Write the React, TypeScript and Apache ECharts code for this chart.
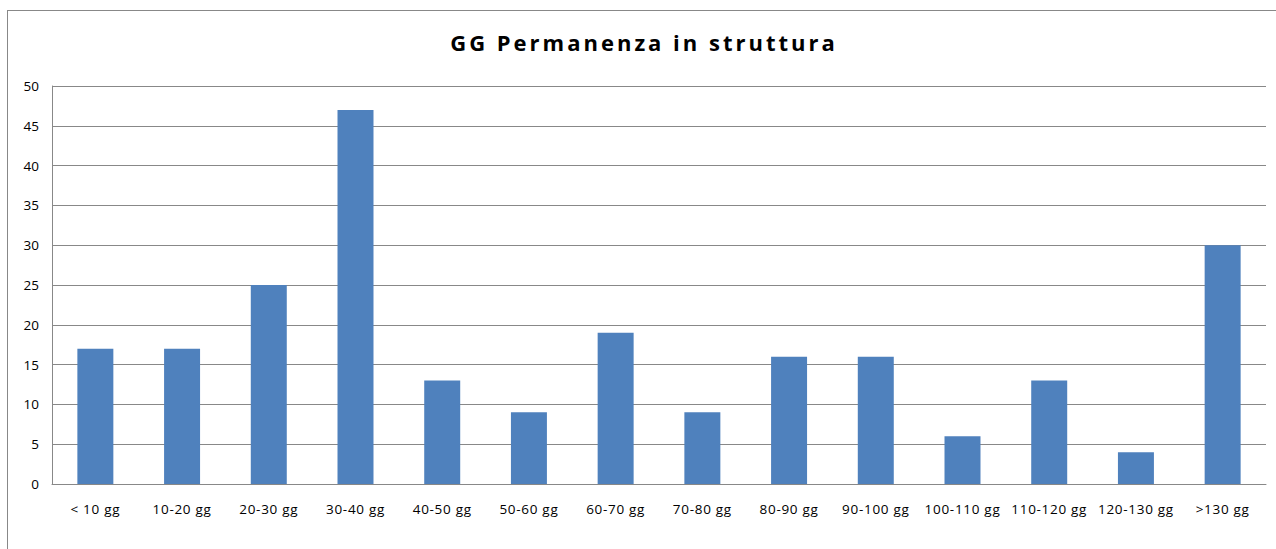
import React, { useEffect, useRef } from "react";
import * as echarts from "echarts";

const categories = ["< 10 gg", "10-20 gg", "20-30 gg", "30-40 gg", "40-50 gg", "50-60 gg", "60-70 gg", "70-80 gg", "80-90 gg", "90-100 gg", "100-110 gg", "110-120 gg", "120-130 gg", ">130 gg"];
const values = [17, 17, 25, 47, 13, 9, 19, 9, 16, 16, 6, 13, 4, 30];
const titleText = "GG Permanenza in struttura";

export default function App() {
  const ref = useRef<HTMLDivElement>(null);
  useEffect(() => {
    if (!ref.current) return;
    document.body.style.margin = "0";
    document.body.style.overflow = "hidden";
    const chart = echarts.init(ref.current, null, { renderer: "svg" });
    chart.setOption({
      animation: false,
      backgroundColor: "#fff",
      title: {
        text: titleText,
        left: 639,
        top: 26,
        textAlign: "center",
        textStyle: { fontFamily: "Open Sans", fontWeight: "bold", fontSize: 22, color: "#000" },
      },
      graphic: [
        {
          type: "rect",
          silent: true,
          z: 100,
          shape: { x: 7, y: 10, width: 1, height: 539 },
          style: { fill: "#888" },
        },
        {
          type: "rect",
          silent: true,
          z: 100,
          shape: { x: 7, y: 10, width: 1269, height: 1 },
          style: { fill: "#888" },
        },
      ],
      grid: { left: 52, top: 86, width: 1214, height: 398 },
      xAxis: {
        type: "category",
        data: categories,
        axisLine: { show: true, lineStyle: { color: "#888", width: 1 } },
        axisTick: { show: false },
        axisLabel: { color: "#000", fontFamily: "Open Sans", fontSize: 13.5, margin: 18, interval: 0 },
      },
      yAxis: {
        type: "value",
        min: 0,
        max: 50,
        interval: 5,
        axisLine: { show: true, lineStyle: { color: "#888", width: 1 } },
        axisTick: { show: false },
        splitLine: { lineStyle: { color: "#888", width: 1 } },
        axisLabel: { color: "#000", fontFamily: "Open Sans", fontSize: 13.5, margin: 13 },
      },
      series: [
        {
          type: "bar",
          data: values,
          barWidth: "41.5%",
          itemStyle: { color: "#4F81BD" },
        },
      ],
    });
    const texts = ref.current.querySelectorAll("text");
    texts.forEach((t) => {
      const el = t as SVGTextElement;
      if (el.textContent === titleText) {
        el.style.letterSpacing = "3px";
      } else if (categories.includes(el.textContent || "")) {
        el.style.letterSpacing = "0.7px";
      }
    });
    return () => chart.dispose();
  }, []);
  return <div ref={ref} style={{ width: 1276, height: 549 }} />;
}
